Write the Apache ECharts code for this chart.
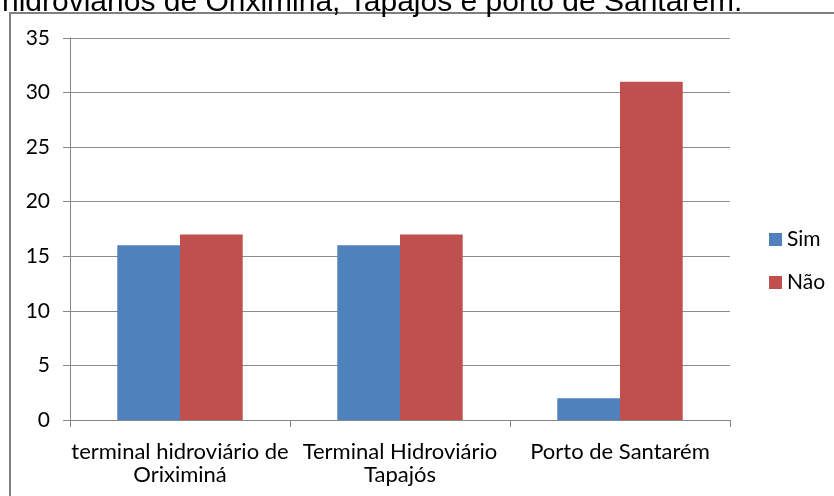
<!DOCTYPE html>
<html>
<head>
<meta charset="utf-8">
<script src="https://cdn.jsdelivr.net/npm/echarts@6/dist/echarts.min.js"></script>
<style>
  html, body { margin: 0; padding: 0; background: #fff; }
  #chart { width: 834px; height: 496px; }
</style>
</head>
<body>
<div id="chart"></div>
<script>
// dados
const categories = ["terminal hidroviário de\nOriximiná", "Terminal Hidroviário\nTapajós", "Porto de Santarém"];
const simValues = [16, 16, 2];
const naoValues = [17, 17, 31];
const yTicks = [0, 5, 10, 15, 20, 25, 30, 35];
const headerText = "hidroviários de Oriximiná, Tapajós e porto de Santarém.";

const chart = echarts.init(document.getElementById("chart"));

const labelFont = "Lato, 'Open Sans', sans-serif";

chart.setOption({
  animation: false,
  backgroundColor: "#fff",
  graphic: [
    {
      type: "rect",
      shape: { x: 10, y: 13, width: 840, height: 500 },
      style: { fill: "none", stroke: "#808080", lineWidth: 2 },
      silent: true,
    },
    {
      type: "text",
      left: 2,
      top: -12,
      style: {
        text: headerText,
        font: "30px 'Liberation Sans', Arial, sans-serif",
        fill: "#000",
      },
    },
  ],
  legend: {
    data: ["Sim", "Não"],
    orient: "vertical",
    left: 764,
    top: 224,
    itemWidth: 13,
    itemHeight: 13,
    itemGap: 22,
    icon: "rect",
    textStyle: { fontFamily: labelFont, fontSize: 21, color: "#000" },
  },
  grid: {
    left: 70,
    right: 104,
    top: 38,
    bottom: 76,
    containLabel: false,
  },
  xAxis: {
    type: "category",
    data: categories,
    axisLine: { lineStyle: { color: "#888", width: 1 } },
    axisTick: { show: true, length: 7, lineStyle: { color: "#888" } },
    axisLabel: {
      fontFamily: labelFont,
      fontSize: 22,
      color: "#000",
      margin: 20,
      lineHeight: 23,
      interval: 0,
    },
  },
  yAxis: {
    type: "value",
    min: 0,
    max: 35,
    interval: 5,
    axisLine: { show: true, lineStyle: { color: "#888", width: 1 } },
    axisTick: { show: true, length: 7, lineStyle: { color: "#888" } },
    axisLabel: {
      fontFamily: labelFont,
      fontSize: 21,
      color: "#000",
      margin: 20,
      formatter: (v) => (yTicks.includes(v) ? String(v) : ""),
    },
    splitLine: { lineStyle: { color: "#8c8c8c", width: 1 } },
  },
  series: [
    {
      name: "Sim",
      type: "bar",
      data: simValues,
      barGap: "0%",
      barCategoryGap: "43%",
      itemStyle: { color: "#4F81BD" },
    },
    {
      name: "Não",
      type: "bar",
      data: naoValues,
      barGap: "0%",
      barCategoryGap: "43%",
      itemStyle: { color: "#C0504D" },
    },
  ],
});
</script>
</body>
</html>
